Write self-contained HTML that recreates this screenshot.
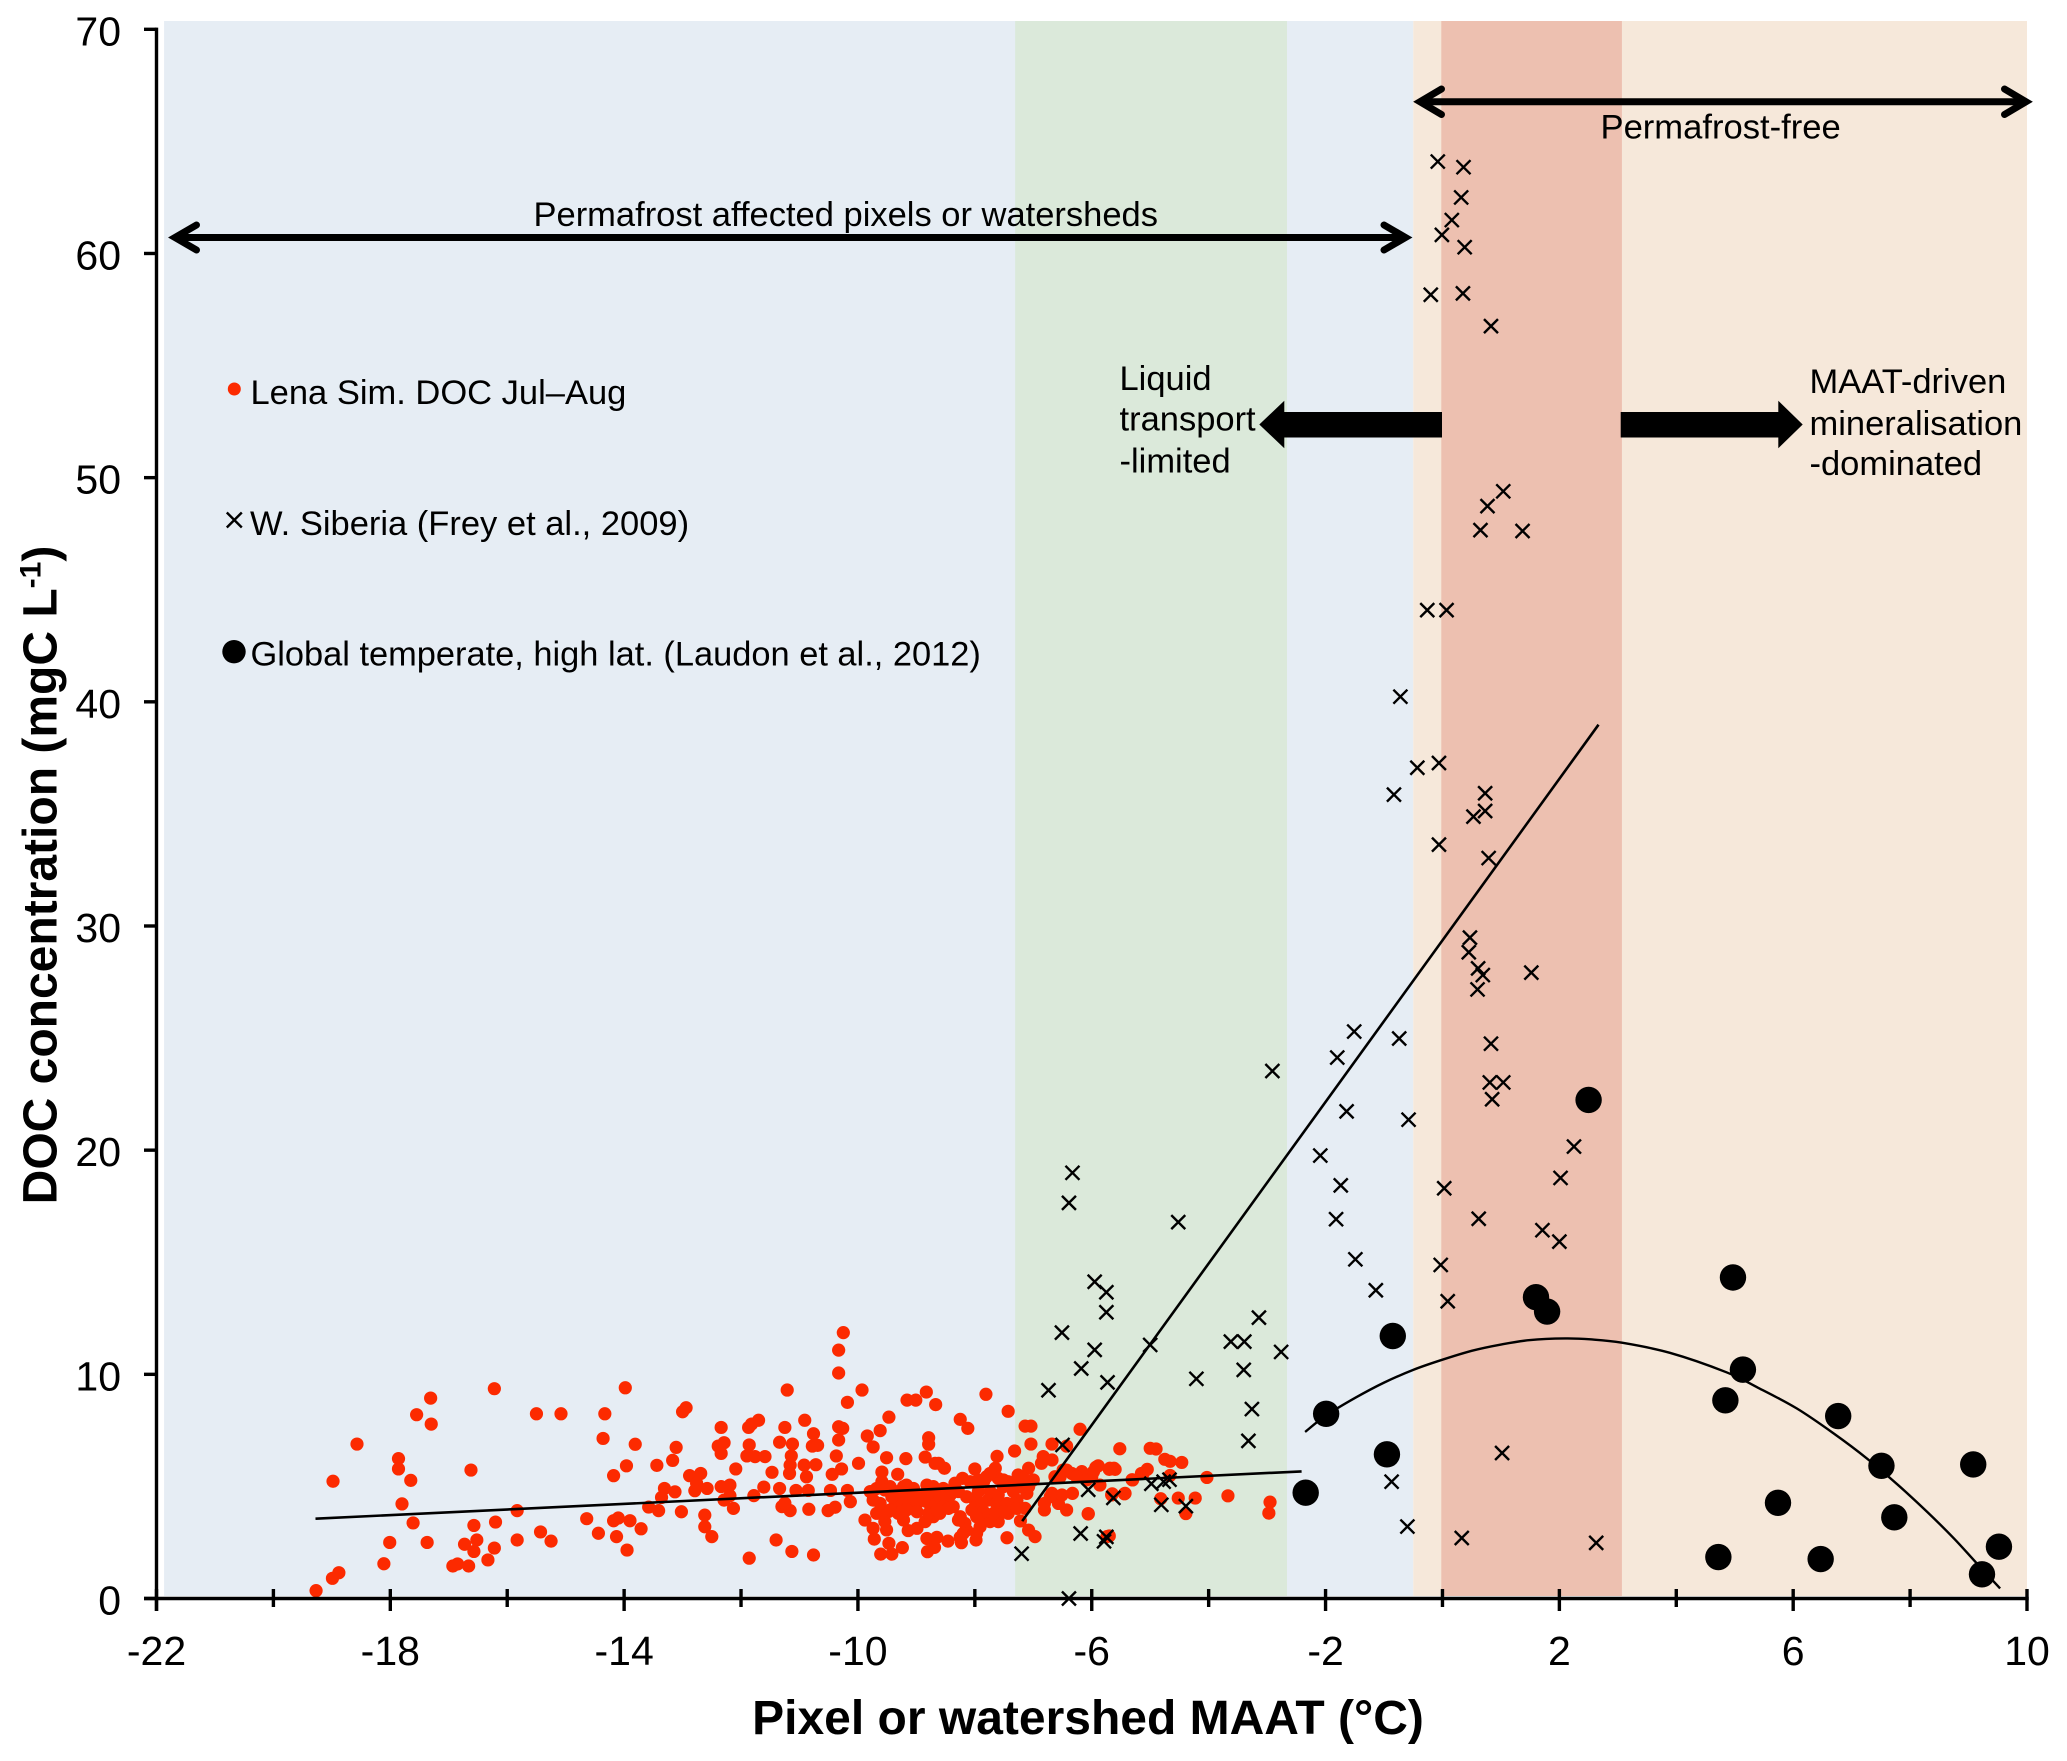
<!DOCTYPE html>
<html lang="en">
<head>
<meta charset="utf-8">
<title>DOC concentration versus MAAT</title>
<style>
html,body{margin:0;padding:0;background:#fff;}
svg{display:block;}
text{font-family:"Liberation Sans",Arial,sans-serif;fill:#000;}
</style>
</head>
<body>
<svg id="chart" xmlns="http://www.w3.org/2000/svg" width="2067" height="1761" viewBox="0 0 2067 1761">
  <g id="bands"></g>
  <g id="redLayer"></g>
  <g id="fitLayer"></g>
  <g id="crossLayer"></g>
  <g id="curveLayer"></g>
  <g id="blackLayer"></g>
  <g id="axes"></g>

  <g fill="none" stroke="#000" stroke-width="7" stroke-linecap="round" stroke-linejoin="miter">
    <line x1="177" y1="237.5" x2="1403" y2="237.5"/>
    <polyline points="196.5,225 175,237.5 196.5,250"/>
    <polyline points="1384,225 1405.5,237.5 1384,250"/>
  </g>
  <g fill="none" stroke="#000" stroke-width="7" stroke-linecap="round" stroke-linejoin="miter">
    <line x1="1422" y1="101.7" x2="2024" y2="101.7"/>
    <polyline points="1441.5,89 1420,101.7 1441.5,114.5"/>
    <polyline points="2004.5,89 2026,101.7 2004.5,114.5"/>
  </g>
  <polygon fill="#000" points="1442,412 1284.3,412 1284.3,400.7 1259.3,424.5 1284.3,448.3 1284.3,437.5 1442,437.5"/>
  <polygon fill="#000" points="1620.7,412 1778.3,412 1778.3,400.7 1802.7,424.5 1778.3,448.3 1778.3,437.5 1620.7,437.5"/>

  <text x="533.5" y="226" font-size="34.5">Permafrost affected pixels or watersheds</text>
  <text x="1600.5" y="138.3" font-size="34.6">Permafrost-free</text>
  <g font-size="34.5">
    <text x="1119.5" y="390">Liquid</text>
    <text x="1119.5" y="430.7">transport</text>
    <text x="1119.5" y="472.7">-limited</text>
  </g>
  <g font-size="34.5">
    <text x="1809.5" y="393">MAAT-driven</text>
    <text x="1809.5" y="435">mineralisation</text>
    <text x="1809.5" y="475">-dominated</text>
  </g>

  <g>
    <g>
      <circle cx="234.3" cy="389" r="6.5" fill="#fc2a00"/>
      <text x="250.5" y="404" font-size="34.5">Lena Sim. DOC Jul–Aug</text>
    </g>
    <g>
      <path d="M226.8 512.5L241.8 527.5M241.8 512.5L226.8 527.5" stroke="#000" stroke-width="2.4" fill="none"/>
      <text x="250" y="535" font-size="34.5">W. Siberia (Frey et al., 2009)</text>
    </g>
    <g>
      <circle cx="234" cy="651.7" r="11.7" fill="#000"/>
      <text x="250.5" y="665.7" font-size="34.4">Global temperate, high lat. (Laudon et al., 2012)</text>
    </g>
  </g>

  <text x="1088" y="1734" font-size="48" font-weight="bold" text-anchor="middle">Pixel or watershed MAAT (°C)</text>
  <text transform="translate(56.5 875) rotate(-90)" font-size="48" font-weight="bold" text-anchor="middle">DOC concentration (mgC L<tspan font-size="30" dy="-16">-1</tspan><tspan dy="16">)</tspan></text>
</svg>

<script>
const xTickValues = [-22,-20,-18,-16,-14,-12,-10,-8,-6,-4,-2,0,2,4,6,8,10];
const xTickLabels = ["-22","","-18","","-14","","-10","","-6","","-2","","2","","6","","10"];
const yTickValues = [0,10,20,30,40,50,60,70];
const yTickLabels = ["0","10","20","30","40","50","60","70"];

const bandNames = ["permafrost-band","liquid-transport-band","permafrost-free-band","transition-band"];
const bandStart = [-21.87,-7.31,-0.5,-0.02];
const bandEnd = [-0.5,-2.66,10,3.07];
const bandColors = ["#e6edf4","#dbe9da","#f6e8da","#edc0b0"];

const redX = [
-19.27,-18.99,-18.88,-18.98,-18.57,-18.11,-18.01,-17.86,-17.86,-17.8,
-17.65,-17.61,-17.55,-17.31,-17.3,-17.37,-16.93,-16.85,-16.66,-16.73,
-16.52,-16.57,-16.57,-16.62,-16.33,-16.22,-16.2,-16.22,-15.83,-15.83,
-15.43,-15.25,-15.5,-15.08,-14.64,-14.44,-14.33,-14.36,-14.18,-13.96,
-13.98,-13.81,-14.18,-14.1,-13.9,-14.13,-13.95,-13.71,-13.58,-13.41,
-13.02,-13.44,-13.17,-13.11,-13.0,-12.94,-13.31,-13.36,-13.13,-12.88,
-12.69,-12.76,-12.79,-12.58,-12.62,-12.62,-12.5,-12.34,-12.39,-12.29,
-12.34,-12.09,-12.34,-12.19,-12.19,-12.29,-12.13,-11.87,-11.82,-11.7,
-11.86,-11.9,-11.76,-11.59,-11.47,-11.61,-11.78,-11.86,-11.4,-11.34,
-11.25,-11.21,-11.12,-11.14,-11.16,-11.17,-11.34,-11.06,-11.3,-11.16,
-11.25,-11.13,-10.91,-10.76,-10.78,-10.69,-10.92,-10.72,-10.88,-10.85,
-10.84,-10.76,-10.33,-10.26,-10.33,-10.37,-10.28,-10.44,-10.47,-10.18,
-10.13,-10.51,-10.39,-10.25,-10.33,-10.33,-10.18,-9.93,-9.99,-9.84,
-9.74,-9.62,-9.47,-9.51,-9.59,-9.32,-9.18,-9.16,-9.01,-8.83,
-8.67,-8.79,-8.79,-8.85,-8.68,-8.52,-8.62,-8.25,-8.12,-7.81,
-7.43,-7.62,-7.32,-7.14,-7.04,-7.04,-6.68,-6.43,-6.2,-5.52,
-9.68,-9.59,-9.45,-9.22,-9.05,-8.71,-8.54,-8.34,-8.21,-8.0,
-7.94,-7.8,-7.65,-7.6,-7.43,-7.26,-7.08,-7.0,-6.83,-6.86,
-6.68,-6.63,-6.49,-6.34,-6.17,-6.0,-5.89,-5.69,-5.62,-5.86,
-5.3,-5.12,-5.0,-9.74,-9.68,-9.88,-9.74,-9.51,-9.72,-9.47,
-9.61,-9.42,-9.24,-9.14,-8.99,-8.82,-8.65,-8.46,-8.81,-8.69,
-8.25,-8.23,-7.98,-7.45,-9.56,-9.48,-9.36,-9.25,-9.14,-8.99,
-8.82,-8.65,-8.48,-8.37,-8.6,-8.71,-8.85,-9.22,-9.31,-8.25,
-8.17,-8.05,-8.0,-7.83,-7.77,-7.91,-7.74,-7.6,-7.43,-7.63,
-7.45,-7.28,-7.11,-7.14,-7.22,-7.08,-6.97,-6.81,-6.81,-6.68,
-6.57,-6.43,-6.33,-6.51,-6.06,-5.66,-5.43,-5.74,-4.9,-4.75,
-4.66,-4.46,-5.31,-5.15,-5.05,-4.66,-4.03,-5.44,-5.65,-4.82,
-4.52,-4.23,-3.67,-2.95,-2.97,-4.39,-6.06,-5.7,-5.93,-5.7,-5.6,
-9.79,-9.62,-9.54,-9.42,-9.31,-9.17,-9.05,-8.91,-8.8,-8.74,
-8.6,-8.42,-8.54,-8.28,-8.14,-7.94,-7.88,-7.74,-7.6,-7.51,
-7.34,-7.2,-7.08,-7.28,-7.51,-7.68,-7.85,-7.97,-7.74,-7.85,
-8.08,-7.51,-7.34,-7.17,-9.45,-9.54,-9.17,-8.99,-8.79,-8.65,
-8.45,-8.28,-8.14,-8.2,-7.97,-8.82,-9.17,-8.88,-6.43,-6.26,
-6.09,-6.54,-5.97,-6.71
];
const redY = [
0.35,0.9,1.15,5.23,6.89,1.55,2.5,6.24,5.78,4.22,
5.27,3.37,8.2,8.94,7.78,2.5,1.45,1.54,1.45,2.42,
2.61,3.26,2.1,5.73,1.72,2.25,3.41,9.36,3.92,2.61,
2.97,2.56,8.24,8.24,3.56,2.91,8.24,7.14,5.48,5.92,
9.4,6.88,3.47,3.59,3.47,2.76,2.16,3.11,4.08,3.92,
3.87,5.94,6.16,6.74,8.33,8.51,4.91,4.51,4.76,5.48,
5.58,5.14,4.81,4.91,3.72,3.2,2.76,7.63,6.8,6.95,
6.47,5.78,4.99,5.06,4.59,4.39,4.02,7.63,7.78,7.95,
6.85,6.36,6.33,6.33,5.63,4.97,4.59,1.8,2.61,6.97,
7.63,9.3,6.89,6.36,5.95,5.58,4.91,4.82,4.1,3.92,
4.25,2.1,7.95,7.35,6.8,6.83,5.95,5.97,5.43,4.82,
3.98,1.94,7.66,7.59,7.07,6.36,5.78,5.54,4.82,4.82,
4.32,3.92,4.07,11.86,11.08,10.06,8.75,9.3,6.03,7.25,
6.76,7.49,8.09,6.28,5.64,5.54,6.24,8.85,8.85,9.21,
8.65,7.17,6.88,6.31,6.03,5.81,6.03,7.99,7.59,9.11,
8.35,6.34,6.58,7.69,7.69,6.89,6.89,6.8,7.55,6.68,
4.91,5.21,4.99,4.99,4.91,4.99,4.91,5.14,5.36,5.78,
5.29,5.43,5.81,5.36,5.21,5.51,5.81,5.29,6.33,6.03,
6.18,5.43,5.73,5.58,5.66,5.43,5.92,5.81,5.81,5.06,
5.29,5.58,6.7,4.39,3.8,3.5,3.13,3.06,2.65,2.46,
1.98,1.98,2.27,3.03,3.13,2.68,2.73,2.56,2.09,2.28,
2.73,2.49,2.61,2.71,3.8,3.87,4.24,4.32,4.39,4.24,
4.32,4.39,4.47,4.1,3.8,3.65,3.43,3.5,3.8,3.65,
3.35,3.95,4.39,3.65,4.39,3.2,3.43,3.43,3.8,4.24,
4.24,4.39,4.69,4.02,3.46,3.05,2.76,3.95,4.24,4.69,
4.24,3.95,4.69,4.62,3.77,4.62,4.69,2.76,6.67,6.21,
6.12,6.07,5.3,5.58,5.76,5.49,5.4,4.67,4.67,4.45,
4.48,4.48,4.58,4.3,3.81,3.79,3.79,2.79,5.85,5.76,5.76,
4.77,4.24,4.84,4.54,4.77,4.69,4.54,4.62,4.69,4.1,
4.62,4.62,4.1,4.77,4.54,4.77,4.24,4.77,4.62,4.99,
4.77,4.99,4.99,4.02,3.87,3.8,3.87,3.65,5.58,5.21,
5.21,5.29,5.14,5.36,3.95,3.43,3.95,3.87,3.8,3.95,
4.02,3.5,3.05,2.9,2.91,5.06,5.06,4.39,5.73,5.43,
5.29,5.43,5.66,4.54
];

const crossX = [
-7.2,-6.5,-6.39,-6.19,-5.79,-5.75,-6.06,-5.63,-4.98,-4.77,
-4.67,-4.81,-4.39,-3.32,-3.26,-4.21,-3.4,-3.62,-3.39,-3.14,
-2.76,-5.0,-5.73,-6.74,-6.18,-5.95,-6.51,-5.75,-5.75,-5.95,
-4.52,-6.39,-6.33,-2.91,-1.8,-1.51,-0.74,-1.64,-0.58,-2.09,
-1.74,-1.82,-1.49,-1.14,-0.87,-0.6,0.33,1.02,2.63,0.03,
-0.03,0.09,0.83,0.81,1.04,0.85,0.62,1.71,2.0,2.02,
2.25,-0.08,0.36,0.32,0.16,-0.01,0.38,-0.2,0.35,0.83,
1.04,0.77,0.65,1.37,-0.26,0.07,-0.72,-0.43,-0.06,-0.83,
0.73,0.73,0.53,-0.06,0.79,0.47,0.45,0.61,0.69,0.6,
1.52
];
const crossY = [
2.0,6.85,0.0,2.9,2.55,2.75,4.85,4.49,5.12,5.21,
5.3,4.18,4.12,7.03,8.45,9.8,10.2,11.46,11.46,12.53,
11.0,11.31,9.64,9.29,10.26,11.09,11.86,12.77,13.66,14.13,
16.79,17.65,18.99,23.53,24.13,25.29,24.98,21.73,21.36,19.76,
18.43,16.92,15.13,13.75,5.21,3.21,2.7,6.49,2.48,18.3,
14.88,13.26,24.75,23.02,23.02,22.27,16.94,16.43,15.92,18.76,
20.16,64.1,63.85,62.5,61.49,60.83,60.28,58.16,58.22,56.76,
49.39,48.73,47.66,47.62,44.09,44.09,40.23,37.06,37.27,35.86,
35.92,35.13,34.88,33.63,33.03,29.48,28.83,28.11,27.81,27.17,
27.92
];

const blackX = [-2.34,-1.99,-0.95,-0.85,1.6,1.79,2.5,4.97,5.14,4.84,6.77,7.51,9.08,5.74,7.73,9.52,9.23,4.72,6.47];
const blackY = [4.72,8.24,6.43,11.71,13.44,12.8,22.24,14.32,10.21,8.84,8.14,5.92,5.98,4.27,3.62,2.31,1.08,1.85,1.76];

const lenaFitX = [-19.28,-2.41];
const lenaFitY = [3.56,5.67];
const siberiaFitX = [-7.19,2.67];
const siberiaFitY = [3.45,38.98];
const curveX = [-2.35,-2.0,-1.5,-1.0,-0.5,-0.04,0.5,1.0,1.5,2.1,2.53,3.07,3.89,4.86,5.4,6.06,6.7,7.26,7.8,8.29,8.75,9.14,9.54];
const curveY = [7.43,8.15,8.94,9.63,10.2,10.62,11.05,11.33,11.53,11.6,11.56,11.41,10.96,10.09,9.4,8.48,7.35,6.25,5.05,3.87,2.68,1.57,0.45];

const NS = "http://www.w3.org/2000/svg";
const xScale = v => 156.5 + (v + 22) * 58.453;
const yScale = v => 1598.5 - v * 22.417;

function make(tag, parent, attrs) {
  const el = document.createElementNS(NS, tag);
  for (const k in attrs) el.setAttribute(k, attrs[k]);
  parent.appendChild(el);
  return el;
}

function smoothPath(xs, ys) {
  const p = xs.map((x, i) => [xScale(x), yScale(ys[i])]);
  let d = "M" + p[0][0] + " " + p[0][1];
  for (let i = 0; i < p.length - 1; i++) {
    const a = p[Math.max(i - 1, 0)], b = p[i], c = p[i + 1], e = p[Math.min(i + 2, p.length - 1)];
    d += "C" + (b[0] + (c[0] - a[0]) / 6) + " " + (b[1] + (c[1] - a[1]) / 6) + " " +
         (c[0] - (e[0] - b[0]) / 6) + " " + (c[1] - (e[1] - b[1]) / 6) + " " + c[0] + " " + c[1];
  }
  return d;
}

const bandsG = document.getElementById("bands");
bandStart.forEach((s, i) => {
  const r = make("rect", bandsG, {x: xScale(s), y: 21, width: xScale(bandEnd[i]) - xScale(s), height: 1575, fill: bandColors[i]});
  
  
});

const redG = document.getElementById("redLayer");
redX.forEach((x, i) => {
  const c = make("circle", redG, {cx: xScale(x), cy: yScale(redY[i]), r: 6.6, fill: "#fc2a00"});
  
  
});

const fitG = document.getElementById("fitLayer");
const fitLena = make("line", fitG, {x1: xScale(lenaFitX[0]), y1: yScale(lenaFitY[0]), x2: xScale(lenaFitX[1]), y2: yScale(lenaFitY[1]), stroke: "#000", "stroke-width": 2.6});


const fitSiberia = make("line", fitG, {x1: xScale(siberiaFitX[0]), y1: yScale(siberiaFitY[0]), x2: xScale(siberiaFitX[1]), y2: yScale(siberiaFitY[1]), stroke: "#000", "stroke-width": 2.6});



const crossG = document.getElementById("crossLayer");
crossX.forEach((x, i) => {
  const px = xScale(x), py = yScale(crossY[i]);
  const p = make("path", crossG, {d: `M${px-7} ${py-7}L${px+7} ${py+7}M${px+7} ${py-7}L${px-7} ${py+7}`, stroke: "#000", "stroke-width": 2.4, fill: "none"});
  
  
});

const curveG = document.getElementById("curveLayer");
const curve = make("path", curveG, {d: smoothPath(curveX, curveY), fill: "none", stroke: "#000", "stroke-width": 2.4});



const blackG = document.getElementById("blackLayer");
blackX.forEach((x, i) => {
  const c = make("circle", blackG, {cx: xScale(x), cy: yScale(blackY[i]), r: 13.2, fill: "#000"});
  
  
});

const axesG = document.getElementById("axes");
const yAxis = make("line", axesG, {x1: xScale(-22), y1: yScale(70) - 1.7, x2: xScale(-22), y2: 1611, stroke: "#000", "stroke-width": 3.4});


const xAxis = make("line", axesG, {x1: 144, y1: yScale(0), x2: xScale(10) + 1.7, y2: yScale(0), stroke: "#000", "stroke-width": 3.4});



xTickValues.forEach((v, i) => {
  const major = xTickLabels[i] !== "";
  const t = make("line", axesG, {x1: xScale(v), y1: 1589, x2: xScale(v), y2: major ? 1611 : 1607, stroke: "#000", "stroke-width": 3.4});
  
  
  if (major) {
    const lab = make("text", axesG, {x: xScale(v), y: 1665, "font-size": 41, "text-anchor": "middle"});
    lab.textContent = xTickLabels[i];
    
    
  }
});

yTickValues.forEach((v, i) => {
  const t = make("line", axesG, {x1: 144, y1: yScale(v), x2: xScale(-22), y2: yScale(v), stroke: "#000", "stroke-width": 3.4});
  
  
  const lab = make("text", axesG, {x: 121, y: yScale(v) + 16, "font-size": 41, "text-anchor": "end"});
  lab.textContent = yTickLabels[i];
  
  
});
</script>
</body>
</html>
